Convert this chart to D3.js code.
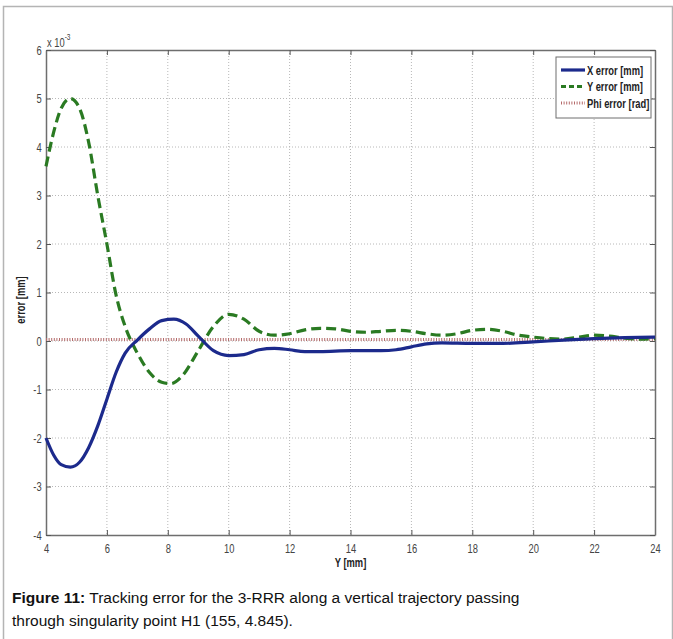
<!DOCTYPE html>
<html>
<head>
<meta charset="utf-8">
<script src="https://cdn.jsdelivr.net/npm/d3@7"></script>
<style>
  body { margin: 0; background: #fff; }
  svg { display: block; }
</style>
</head>
<body>
<div class="canvas"></div>
<script>
// data (error values in units of 1e-3)
const xTicks = [4, 6, 8, 10, 12, 14, 16, 18, 20, 22, 24];
const yTicks = [-4, -3, -2, -1, 0, 1, 2, 3, 4, 5, 6];

const xErrX = [4, 4.25, 4.5, 4.8, 5.1, 5.4, 5.7, 6.0, 6.3, 6.6, 7.0, 7.4, 7.8, 8.2, 8.6, 9.0, 9.5, 10.0, 10.5, 11.0, 11.5, 12.0, 12.5, 13.0, 14, 15, 15.5, 16, 16.5, 17, 18, 19, 20, 21, 22, 23, 24];
const xErrY = [-2.0, -2.35, -2.55, -2.6, -2.5, -2.2, -1.75, -1.2, -0.65, -0.25, 0.02, 0.25, 0.42, 0.45, 0.35, 0.1, -0.2, -0.3, -0.28, -0.18, -0.15, -0.18, -0.22, -0.22, -0.2, -0.2, -0.18, -0.12, -0.06, -0.04, -0.05, -0.05, -0.02, 0.02, 0.05, 0.07, 0.08];

const yErrX = [4, 4.25, 4.5, 4.8, 5.1, 5.4, 5.7, 6.0, 6.3, 6.6, 7.0, 7.4, 7.8, 8.1, 8.5, 9.0, 9.5, 10.0, 10.5, 11.0, 11.5, 12.0, 12.5, 13.0, 13.5, 14.0, 14.5, 15.0, 15.5, 16.0, 16.5, 17.0, 17.5, 18.0, 18.5, 19.0, 19.5, 20.0, 20.5, 21.0, 21.5, 22.0, 22.5, 23.0, 23.5, 24];
const yErrY = [3.6, 4.3, 4.8, 5.0, 4.8, 4.1, 3.0, 2.0, 0.95, 0.3, -0.25, -0.65, -0.85, -0.88, -0.7, -0.2, 0.3, 0.55, 0.45, 0.2, 0.12, 0.15, 0.23, 0.26, 0.25, 0.2, 0.18, 0.2, 0.22, 0.2, 0.15, 0.12, 0.15, 0.22, 0.24, 0.2, 0.12, 0.08, 0.05, 0.04, 0.08, 0.12, 0.1, 0.06, 0.04, 0.05];

const phiX = [4, 6, 8, 10, 12, 14, 16, 18, 20, 22, 24];
const phiY = [0.03, 0.03, 0.03, 0.03, 0.03, 0.03, 0.03, 0.03, 0.03, 0.03, 0.03];

const seriesNames = ['X error [mm]', 'Y error [mm]', 'Phi error [rad]'];

const W = 673, H = 639;
const margin = { top: 50, right: 18, bottom: 104, left: 46 };
const graphWidth = W - margin.left - margin.right;
const graphHeight = H - margin.top - margin.bottom;
const tickFont = '"Liberation Sans", Arial, sans-serif';
const narrow = 'scale(0.72,1)';

const svg = d3.select('.canvas')
  .append('svg')
    .attr('width', W)
    .attr('height', H);

// outer frame of the figure
svg.append('rect')
  .attr('x', 3.5).attr('y', 6.5)
  .attr('width', W - 4).attr('height', H)
  .attr('fill', 'none')
  .attr('stroke', '#b4b4b4')
  .attr('stroke-width', 1.5);

const graph = svg.append('g')
  .attr('transform', `translate(${margin.left}, ${margin.top})`);

const x = d3.scaleLinear().domain([4, 24]).range([0, graphWidth]);
const y = d3.scaleLinear().domain([-4, 6]).range([graphHeight, 0]);

// dotted grid
graph.append('g').selectAll('line')
  .data(xTicks.slice(1, -1))
  .join('line')
    .attr('x1', d => x(d)).attr('x2', d => x(d))
    .attr('y1', 0).attr('y2', graphHeight)
    .attr('stroke', '#b8b8b8')
    .attr('stroke-dasharray', '1,2');
graph.append('g').selectAll('line')
  .data(yTicks.slice(1, -1))
  .join('line')
    .attr('x1', 0).attr('x2', graphWidth)
    .attr('y1', d => y(d)).attr('y2', d => y(d))
    .attr('stroke', '#b8b8b8')
    .attr('stroke-dasharray', '1,2');

// axes with inward ticks, box on all four sides
const fmt = d => String(d);
const xAxisBottom = d3.axisBottom(x).tickValues(xTicks).tickSizeInner(-5).tickSizeOuter(0).tickPadding(9).tickFormat(fmt);
const xAxisTop = d3.axisTop(x).tickValues(xTicks).tickSizeInner(-5).tickSizeOuter(0).tickFormat('');
const yAxisLeft = d3.axisLeft(y).tickValues(yTicks).tickSizeInner(-5).tickSizeOuter(0).tickPadding(6).tickFormat(fmt);
const yAxisRight = d3.axisRight(y).tickValues(yTicks).tickSizeInner(-5).tickSizeOuter(0).tickFormat('');

const axes = [
  graph.append('g').attr('transform', `translate(0, ${graphHeight})`).call(xAxisBottom),
  graph.append('g').call(xAxisTop),
  graph.append('g').call(yAxisLeft),
  graph.append('g').attr('transform', `translate(${graphWidth}, 0)`).call(yAxisRight)
];
axes.forEach(a => {
  a.select('.domain').attr('stroke', '#6e6e6e').attr('stroke-width', 1.5);
  a.selectAll('.tick line').attr('stroke', '#555');
  a.selectAll('text')
    .attr('font-family', tickFont)
    .attr('font-size', '13px')
    .attr('fill', '#444')
    .attr('transform', narrow);
});

// lines
const line = d3.line()
  .x(d => x(d[0]))
  .y(d => y(d[1]))
  .curve(d3.curveMonotoneX);

graph.append('path')
  .datum(d3.zip(phiX, phiY))
  .attr('fill', 'none')
  .attr('stroke', '#b56b6b')
  .attr('stroke-width', 3)
  .attr('stroke-dasharray', '1,1.6')
  .attr('d', line);

graph.append('path')
  .datum(d3.zip(yErrX, yErrY))
  .attr('fill', 'none')
  .attr('stroke', '#2a7a22')
  .attr('stroke-width', 3.2)
  .attr('stroke-dasharray', '10,5')
  .attr('d', line);

graph.append('path')
  .datum(d3.zip(xErrX, xErrY))
  .attr('fill', 'none')
  .attr('stroke', '#1c2a8c')
  .attr('stroke-width', 3.2)
  .attr('d', line);

// legend
const legend = graph.append('g').attr('transform', `translate(${graphWidth - 99}, 7)`);
legend.append('rect')
  .attr('width', 95).attr('height', 61)
  .attr('fill', '#fff')
  .attr('stroke', '#6e6e6e');
const legendStyles = [
  { stroke: '#1c2a8c', dash: null, w: 3.2 },
  { stroke: '#2a7a22', dash: '5,3', w: 3 },
  { stroke: '#b56b6b', dash: '1,1.6', w: 3 }
];
seriesNames.forEach((name, i) => {
  const row = legend.append('g').attr('transform', `translate(0, ${13 + i * 16.5})`);
  row.append('line')
    .attr('x1', 5).attr('x2', 29)
    .attr('stroke', legendStyles[i].stroke)
    .attr('stroke-width', legendStyles[i].w)
    .attr('stroke-dasharray', legendStyles[i].dash);
  row.append('g').attr('transform', 'translate(31, 4.5) ' + narrow)
    .append('text')
    .attr('font-family', tickFont)
    .attr('font-weight', 'bold')
    .attr('font-size', '13px')
    .attr('fill', '#222')
    .text(name);
});

// exponent label
const expo = svg.append('g').attr('transform', 'translate(47, 47) ' + narrow)
  .append('text')
  .attr('font-family', tickFont)
  .attr('font-size', '13px')
  .attr('fill', '#444');
expo.append('tspan').text('x 10');
expo.append('tspan').attr('dy', -7).attr('font-size', '9px').text('-3');

// axis titles
svg.append('g').attr('transform', `translate(${margin.left + graphWidth / 2}, 567) ` + narrow)
  .append('text')
  .attr('text-anchor', 'middle')
  .attr('font-family', tickFont)
  .attr('font-weight', 'bold')
  .attr('font-size', '13px')
  .attr('fill', '#222')
  .text('Y [mm]');

svg.append('g').attr('transform', 'translate(25, 300) rotate(-90) ' + narrow)
  .append('text')
  .attr('text-anchor', 'middle')
  .attr('font-family', tickFont)
  .attr('font-weight', 'bold')
  .attr('font-size', '13px')
  .attr('fill', '#222')
  .text('error [mm]');

// caption
const caption = svg.append('text')
  .attr('x', 12).attr('y', 603)
  .attr('font-family', '"Liberation Sans", Arial, sans-serif')
  .attr('font-size', '15.5px')
  .attr('fill', '#111');
caption.append('tspan').attr('font-weight', 'bold').text('Figure 11:');
caption.append('tspan').text(' Tracking error for the 3-RRR along a vertical trajectory passing');
svg.append('text')
  .attr('x', 12).attr('y', 626)
  .attr('font-family', '"Liberation Sans", Arial, sans-serif')
  .attr('font-size', '15.5px')
  .attr('fill', '#111')
  .text('through singularity point H1 (155, 4.845).');
</script>
</body>
</html>
